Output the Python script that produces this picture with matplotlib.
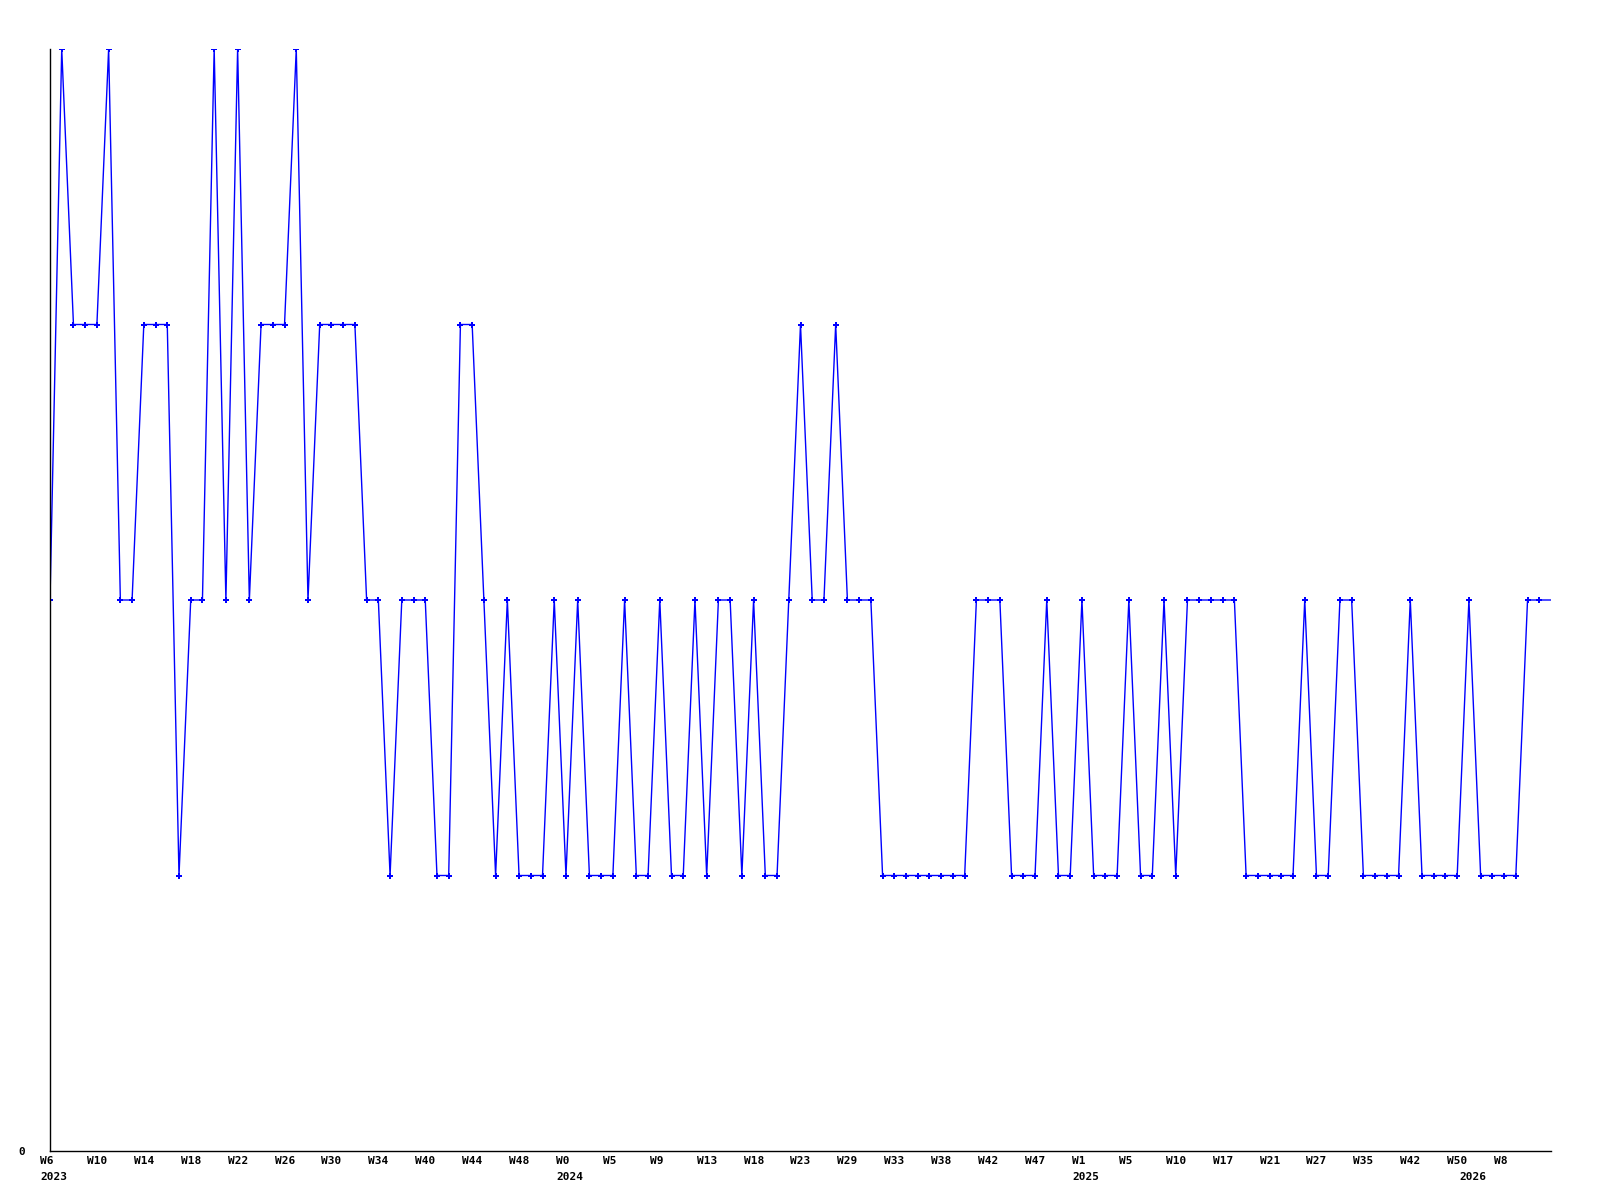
import matplotlib
matplotlib.use("Agg")
import matplotlib.pyplot as plt
import matplotlib.transforms as mtransforms

# weekly values (last one is the current, unmarked point)
values = [
    2, 4, 3, 3, 3, 4, 2, 2, 3, 3, 3, 1, 2, 2, 4, 2, 4, 2, 3, 3,
    3, 4, 2, 3, 3, 3, 3, 2, 2, 1, 2, 2, 2, 1, 1, 3, 3, 2, 1, 2,
    1, 1, 1, 2, 1, 2, 1, 1, 1, 2, 1, 1, 2, 1, 1, 2, 1, 2, 2, 1,
    2, 1, 1, 2, 3, 2, 2, 3, 2, 2, 2, 1, 1, 1, 1, 1, 1, 1, 1, 2,
    2, 2, 1, 1, 1, 2, 1, 1, 2, 1, 1, 1, 2, 1, 1, 2, 1, 2, 2, 2,
    2, 2, 1, 1, 1, 1, 1, 2, 1, 1, 2, 2, 1, 1, 1, 1, 2, 1, 1, 1,
    1, 2, 1, 1, 1, 1, 2, 2, 2,
]

week_labels = ["W6", "W10", "W14", "W18", "W22", "W26", "W30", "W34", "W40", "W44",
               "W48", "W0", "W5", "W9", "W13", "W18", "W23", "W29", "W33", "W38",
               "W42", "W47", "W1", "W5", "W10", "W17", "W21", "W27", "W35", "W42",
               "W50", "W8"]
label_step = 4
year_labels = ["2023", "2024", "2025", "2026"]
year_index = [0, 44, 88, 121]

fig = plt.figure(figsize=(16, 12), dpi=100)
ax = fig.add_axes([50 / 1600, 1 - 1151 / 1200, 1501 / 1600, 1102 / 1200])

x = list(range(len(values)))
ax.plot(x, values, color="#0000ff", linewidth=1.0,
        marker="P", markersize=5, markeredgewidth=0,
        markevery=slice(0, len(values) - 1))

ax.set_xlim(0, len(values) - 1)
ax.set_ylim(0, 4)

for side in ("top", "right"):
    ax.spines[side].set_visible(False)
for side in ("left", "bottom"):
    ax.spines[side].set_color("black")
    ax.spines[side].set_linewidth(1.0)

ax.set_xticks([])
ax.set_yticks([0])
ax.set_yticklabels(["0"], fontfamily="DejaVu Sans Mono", fontweight="bold", fontsize=8)
ax.tick_params(axis="y", length=0, pad=18)

font = dict(fontfamily="DejaVu Sans Mono", fontweight="bold", fontsize=8, color="black")
trans = mtransforms.blended_transform_factory(ax.transData, ax.transAxes)
t1 = mtransforms.offset_copy(trans, fig=fig, x=-10, y=-10, units="dots")
t2 = mtransforms.offset_copy(trans, fig=fig, x=-10, y=-26, units="dots")
for i, w in enumerate(week_labels):
    ax.text(i * label_step, 0, w, transform=t1, ha="left", va="center", **font)
for xi, yr in zip(year_index, year_labels):
    ax.text(xi, 0, yr, transform=t2, ha="left", va="center", **font)

fig.savefig("out.png", dpi=100)
